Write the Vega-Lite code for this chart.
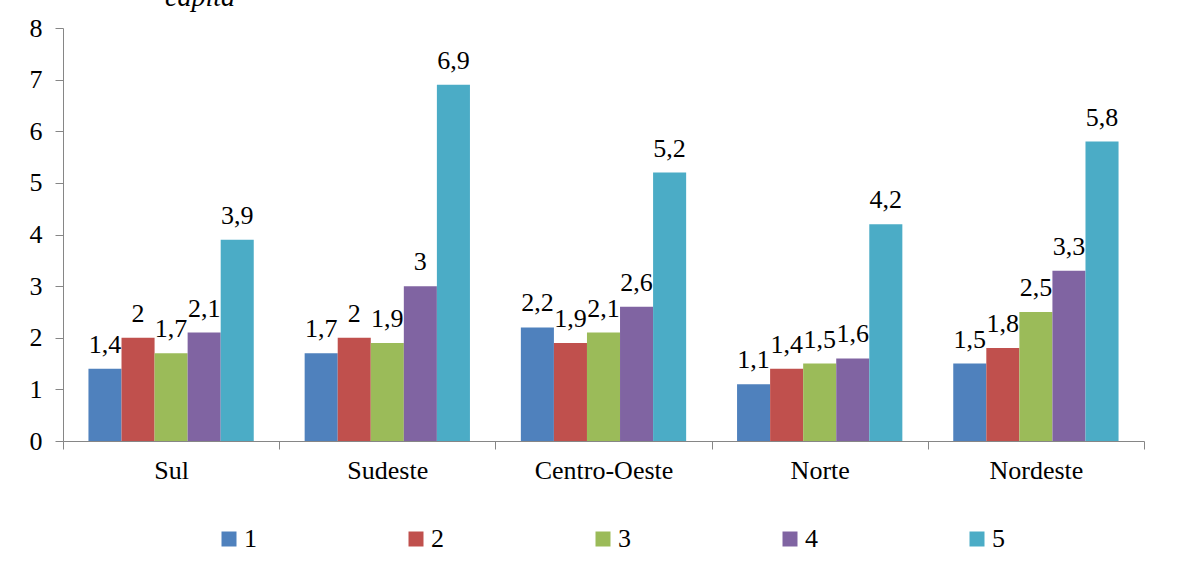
{
  "$schema": "https://vega.github.io/schema/vega-lite/v6.json",
  "width": 1081,
  "height": 413,
  "autosize": {"type": "none"},
  "padding": {"left": 63, "top": 28, "right": 56, "bottom": 131},
  "background": "white",
  "title": {
    "text": "capita",
    "anchor": "start",
    "frame": "group",
    "font": "Liberation Serif, Times New Roman, serif",
    "fontStyle": "italic",
    "fontWeight": "normal",
    "fontSize": 28,
    "color": "black",
    "baseline": "alphabetic",
    "offset": 0,
    "dx": 102,
    "dy": 19
  },
  "config": {
    "locale": {"number": {"decimal": ",", "thousands": ".", "grouping": [3], "currency": ["R$", ""]}},
    "view": {"stroke": null},
    "axis": {"labelFont": "Liberation Serif, Times New Roman, serif", "labelColor": "black", "domainColor": "#868686", "tickColor": "#868686", "grid": false, "title": null}
  },
  "data": {
    "values": [
      {"regiao": "Sul", "serie": "1", "valor": 1.4},
      {"regiao": "Sul", "serie": "2", "valor": 2},
      {"regiao": "Sul", "serie": "3", "valor": 1.7},
      {"regiao": "Sul", "serie": "4", "valor": 2.1},
      {"regiao": "Sul", "serie": "5", "valor": 3.9},
      {"regiao": "Sudeste", "serie": "1", "valor": 1.7},
      {"regiao": "Sudeste", "serie": "2", "valor": 2},
      {"regiao": "Sudeste", "serie": "3", "valor": 1.9},
      {"regiao": "Sudeste", "serie": "4", "valor": 3},
      {"regiao": "Sudeste", "serie": "5", "valor": 6.9},
      {"regiao": "Centro-Oeste", "serie": "1", "valor": 2.2},
      {"regiao": "Centro-Oeste", "serie": "2", "valor": 1.9},
      {"regiao": "Centro-Oeste", "serie": "3", "valor": 2.1},
      {"regiao": "Centro-Oeste", "serie": "4", "valor": 2.6},
      {"regiao": "Centro-Oeste", "serie": "5", "valor": 5.2},
      {"regiao": "Norte", "serie": "1", "valor": 1.1},
      {"regiao": "Norte", "serie": "2", "valor": 1.4},
      {"regiao": "Norte", "serie": "3", "valor": 1.5},
      {"regiao": "Norte", "serie": "4", "valor": 1.6},
      {"regiao": "Norte", "serie": "5", "valor": 4.2},
      {"regiao": "Nordeste", "serie": "1", "valor": 1.5},
      {"regiao": "Nordeste", "serie": "2", "valor": 1.8},
      {"regiao": "Nordeste", "serie": "3", "valor": 2.5},
      {"regiao": "Nordeste", "serie": "4", "valor": 3.3},
      {"regiao": "Nordeste", "serie": "5", "valor": 5.8}
    ]
  },
  "encoding": {
    "x": {
      "field": "regiao", "type": "nominal", "sort": null,
      "scale": {"paddingInner": 0, "paddingOuter": 0},
      "axis": {"labelAngle": 0, "labelFontSize": 26, "tickBand": "extent", "tickSize": 8, "labelPadding": 8}
    },
    "xOffset": {"field": "serie", "type": "nominal", "scale": {"paddingInner": 0, "paddingOuter": 0.77}},
    "y": {
      "field": "valor", "type": "quantitative",
      "scale": {"domain": [0, 8], "nice": false},
      "axis": {"values": [0, 1, 2, 3, 4, 5, 6, 7, 8], "labelFontSize": 26, "tickSize": 8, "labelPadding": 13, "format": "d"}
    }
  },
  "layer": [
    {
      "mark": {"type": "bar"},
      "encoding": {
        "color": {
          "field": "serie", "type": "nominal",
          "scale": {"range": ["#4F81BD", "#C0504D", "#9BBB59", "#8064A2", "#4BACC6"]},
          "legend": {
            "title": null, "orient": "none", "direction": "horizontal", "columns": 5,
            "legendX": 153, "legendY": 498, "padding": 0,
            "symbolType": "square", "symbolSize": 225, "symbolStrokeWidth": 0, "symbolOpacity": 1,
            "labelFont": "Liberation Serif, Times New Roman, serif", "labelFontSize": 26, "labelColor": "black", "labelOffset": 2,
            "columnPadding": 146
          }
        }
      }
    },
    {
      "mark": {"type": "text", "font": "Liberation Serif, Times New Roman, serif", "fontSize": 26, "color": "black", "baseline": "alphabetic", "dy": -16},
      "encoding": {
        "text": {"field": "valor", "type": "quantitative", "format": "~g"}
      }
    }
  ]
}
